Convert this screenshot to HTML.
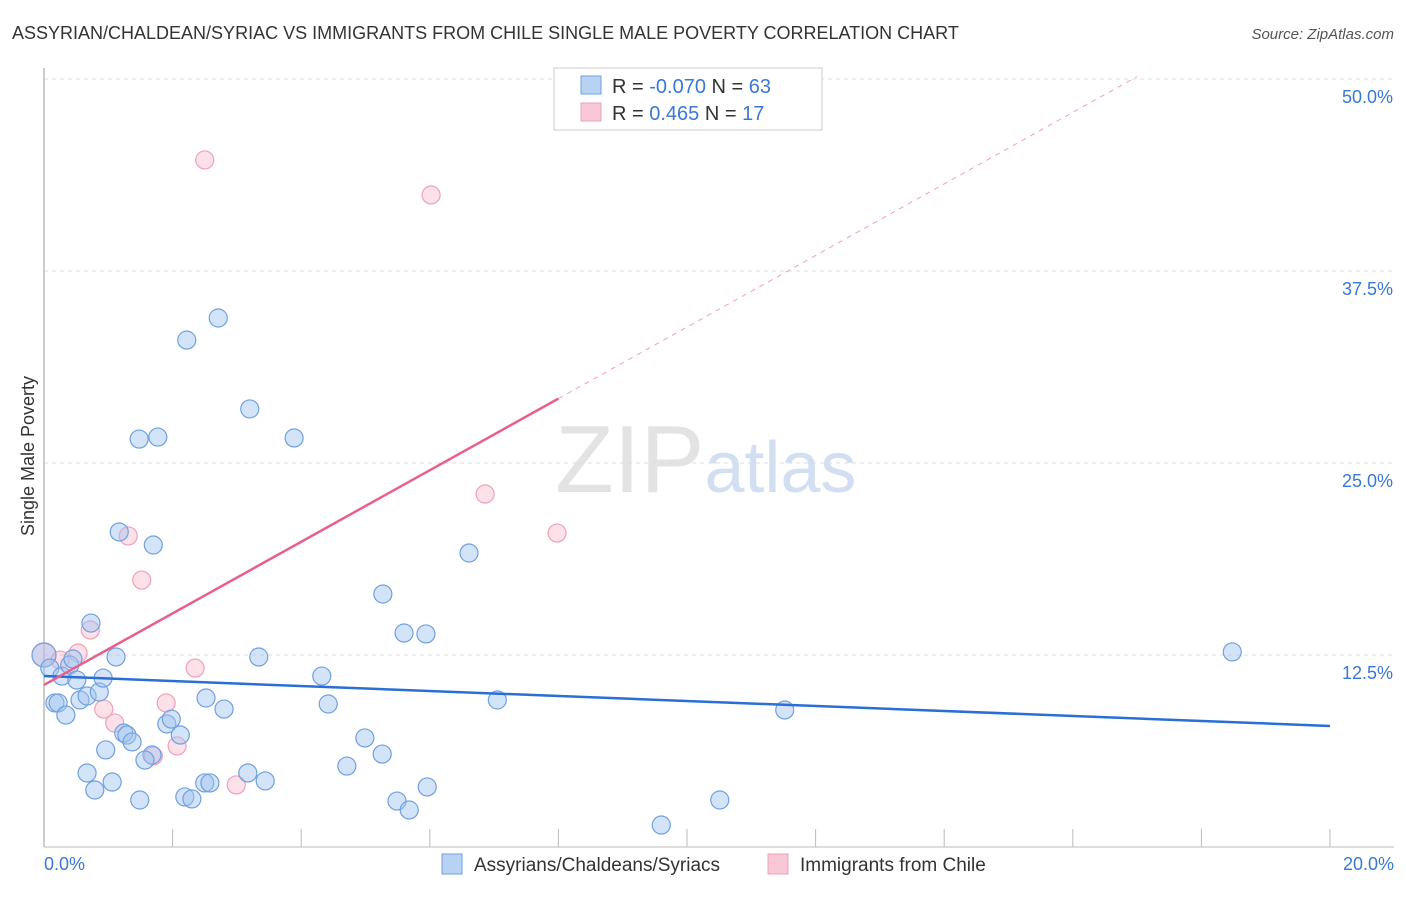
<!DOCTYPE html>
<html><head><meta charset="utf-8"><style>
body{margin:0;background:#fff;font-family:"Liberation Sans",sans-serif;}
svg text{font-family:"Liberation Sans",sans-serif;}
</style></head><body>
<svg id="chart" width="1406" height="892" xmlns="http://www.w3.org/2000/svg">
<text x="12" y="39" font-size="18" fill="#333">ASSYRIAN/CHALDEAN/SYRIAC VS IMMIGRANTS FROM CHILE SINGLE MALE POVERTY CORRELATION CHART</text>
<text x="1394" y="39" font-size="15" fill="#555" text-anchor="end" font-style="italic">Source: ZipAtlas.com</text>
<text x="555" y="492" font-size="96" fill="#ddd" font-family="Liberation Serif" opacity="0.8">ZIP<tspan fill="#c8d8f0" font-family="Liberation Sans" font-size="72">atlas</tspan></text>
<g id="grid"></g>
<line x1="44" y1="68" x2="44" y2="847" stroke="#bbb" stroke-width="1.5"/>
<line x1="44" y1="847" x2="1394" y2="847" stroke="#bbb" stroke-width="1"/>
<text transform="translate(34,456) rotate(-90)" font-size="18" fill="#333" text-anchor="middle">Single Male Poverty</text>
<text x="44" y="870" font-size="18" fill="#3a78d8">0.0%</text>
<text x="1394" y="870" font-size="18" fill="#3a78d8" text-anchor="end">20.0%</text>
<g id="marks"></g>
<g>
<rect x="554" y="68" width="268" height="62" fill="#fff" stroke="#ccc"/>
<rect x="581" y="76" width="20" height="18" fill="#b8d2f4" stroke="#6fa0e0"/>
<rect x="581" y="103" width="20" height="18" fill="#f9c8d6" stroke="#f0a0b8"/>
<text x="612" y="93" font-size="20" fill="#333">R = <tspan fill="#3a78d8">-0.070</tspan>   N = <tspan fill="#3a78d8">63</tspan></text>
<text x="612" y="120" font-size="20" fill="#333">R =   <tspan fill="#3a78d8">0.465</tspan>   N =  <tspan fill="#3a78d8">17</tspan></text>
</g>
<g>
<rect x="442" y="854" width="20" height="20" fill="#b8d2f4" stroke="#6fa0e0"/>
<text x="474" y="871" font-size="19" fill="#333">Assyrians/Chaldeans/Syriacs</text>
<rect x="768" y="854" width="20" height="20" fill="#f9c8d6" stroke="#f0a0b8"/>
<text x="800" y="871" font-size="19" fill="#333">Immigrants from Chile</text>
</g>
</svg>
<script>
const yTicks=[12.5,25,37.5,50];
const yTickLabels=["12.5%","25.0%","37.5%","50.0%"];
const xTicks=[0,2,4,6,8,10,12,14,16,18,20];
const blueX=[0,0.09,0.28,0.40,0.45,0.51,0.17,0.22,0.34,0.56,0.67,0.86,0.92,0.73,1.12,0.96,0.67,0.79,1.06,1.49,1.17,1.48,1.77,1.70,2.22,2.71,3.20,3.89,1.24,1.29,1.37,1.68,1.57,1.91,1.98,2.12,2.19,2.30,2.50,2.58,2.52,2.80,3.17,3.44,3.34,4.32,4.42,4.71,4.99,5.26,5.27,5.60,5.94,5.49,5.68,5.96,6.61,7.05,9.60,10.51,11.52,18.48];
const blueY=[12.5,11.65,11.13,11.85,12.24,10.87,9.38,9.38,8.59,9.57,9.83,10.09,11.0,14.58,12.37,6.32,4.82,3.71,4.23,3.06,20.51,26.56,26.69,19.66,33.0,34.44,28.52,26.63,7.42,7.29,6.84,5.99,5.66,8.01,8.33,7.29,3.26,3.13,4.17,4.17,9.70,8.98,4.82,4.30,12.37,11.13,9.31,5.27,7.10,6.05,16.47,13.93,13.87,2.99,2.41,3.91,19.14,9.57,1.43,3.06,8.92,12.70];
const pinkX=[0,0.25,0.53,0.72,0.93,1.10,1.31,1.52,1.70,1.90,2.07,2.35,2.99,2.50,6.02,6.86,7.98];
const pinkY=[12.5,12.17,12.63,14.13,8.98,8.07,20.25,17.38,5.92,9.38,6.58,11.65,4.04,44.73,42.45,22.98,20.44];
const blueTrend=[11.13,7.88]; // y at x=0 and x=20
const pinkTrend=[10.55,2.33]; // intercept, slope
const pinkSolidEnd=8.0, pinkDashEnd=17.0;
const X=v=>44+v*64.3, Y=v=>847-v*15.36;
const NS="http://www.w3.org/2000/svg";
const grid=document.getElementById('grid'), marks=document.getElementById('marks');
function mk(tag,attrs,parent){const e=document.createElementNS(NS,tag);for(const k in attrs)e.setAttribute(k,attrs[k]);parent.appendChild(e);return e;}
yTicks.forEach((t,i)=>{
 const l=mk('line',{x1:44,x2:1394,y1:Y(t),y2:Y(t),stroke:'#ddd','stroke-dasharray':'4,4'},grid);
 
 
 const tx=mk('text',{x:1393,y:Y(t)+24,'font-size':18,fill:'#3a78d8','text-anchor':'end'},grid);
 tx.textContent=yTickLabels[i];
 
 
});
xTicks.forEach(t=>{
 const l=mk('line',{x1:X(t),x2:X(t),y1:829,y2:847,stroke:'#bbb'},grid);
 
 
});
function dots(xs,ys,fill,stroke,name){xs.forEach((x,i)=>{
 const c=mk('circle',{cx:X(x),cy:Y(ys[i]),r:i===0?12:9,fill:fill,stroke:stroke,'stroke-width':1.2},marks);
 
 
});}
dots(pinkX,pinkY,'rgba(248,180,200,0.4)','#f0a0b8','chile-point');
dots(blueX,blueY,'rgba(160,196,240,0.45)','#6fa0e0','assyrian-point');
const bl=mk('line',{x1:X(0),y1:Y(blueTrend[0]),x2:X(20),y2:Y(blueTrend[1]),stroke:'#2a6fd6','stroke-width':2.5},marks);


const pl=mk('line',{x1:X(0),y1:Y(pinkTrend[0]),x2:X(pinkSolidEnd),y2:Y(pinkTrend[0]+pinkTrend[1]*pinkSolidEnd),stroke:'#e8608a','stroke-width':2.5},marks);


const pd=mk('line',{x1:X(pinkSolidEnd),y1:Y(pinkTrend[0]+pinkTrend[1]*pinkSolidEnd),x2:X(pinkDashEnd),y2:Y(pinkTrend[0]+pinkTrend[1]*pinkDashEnd),stroke:'#f0a0b8','stroke-width':1,'stroke-dasharray':'5,5'},marks);


</script>
</body></html>
